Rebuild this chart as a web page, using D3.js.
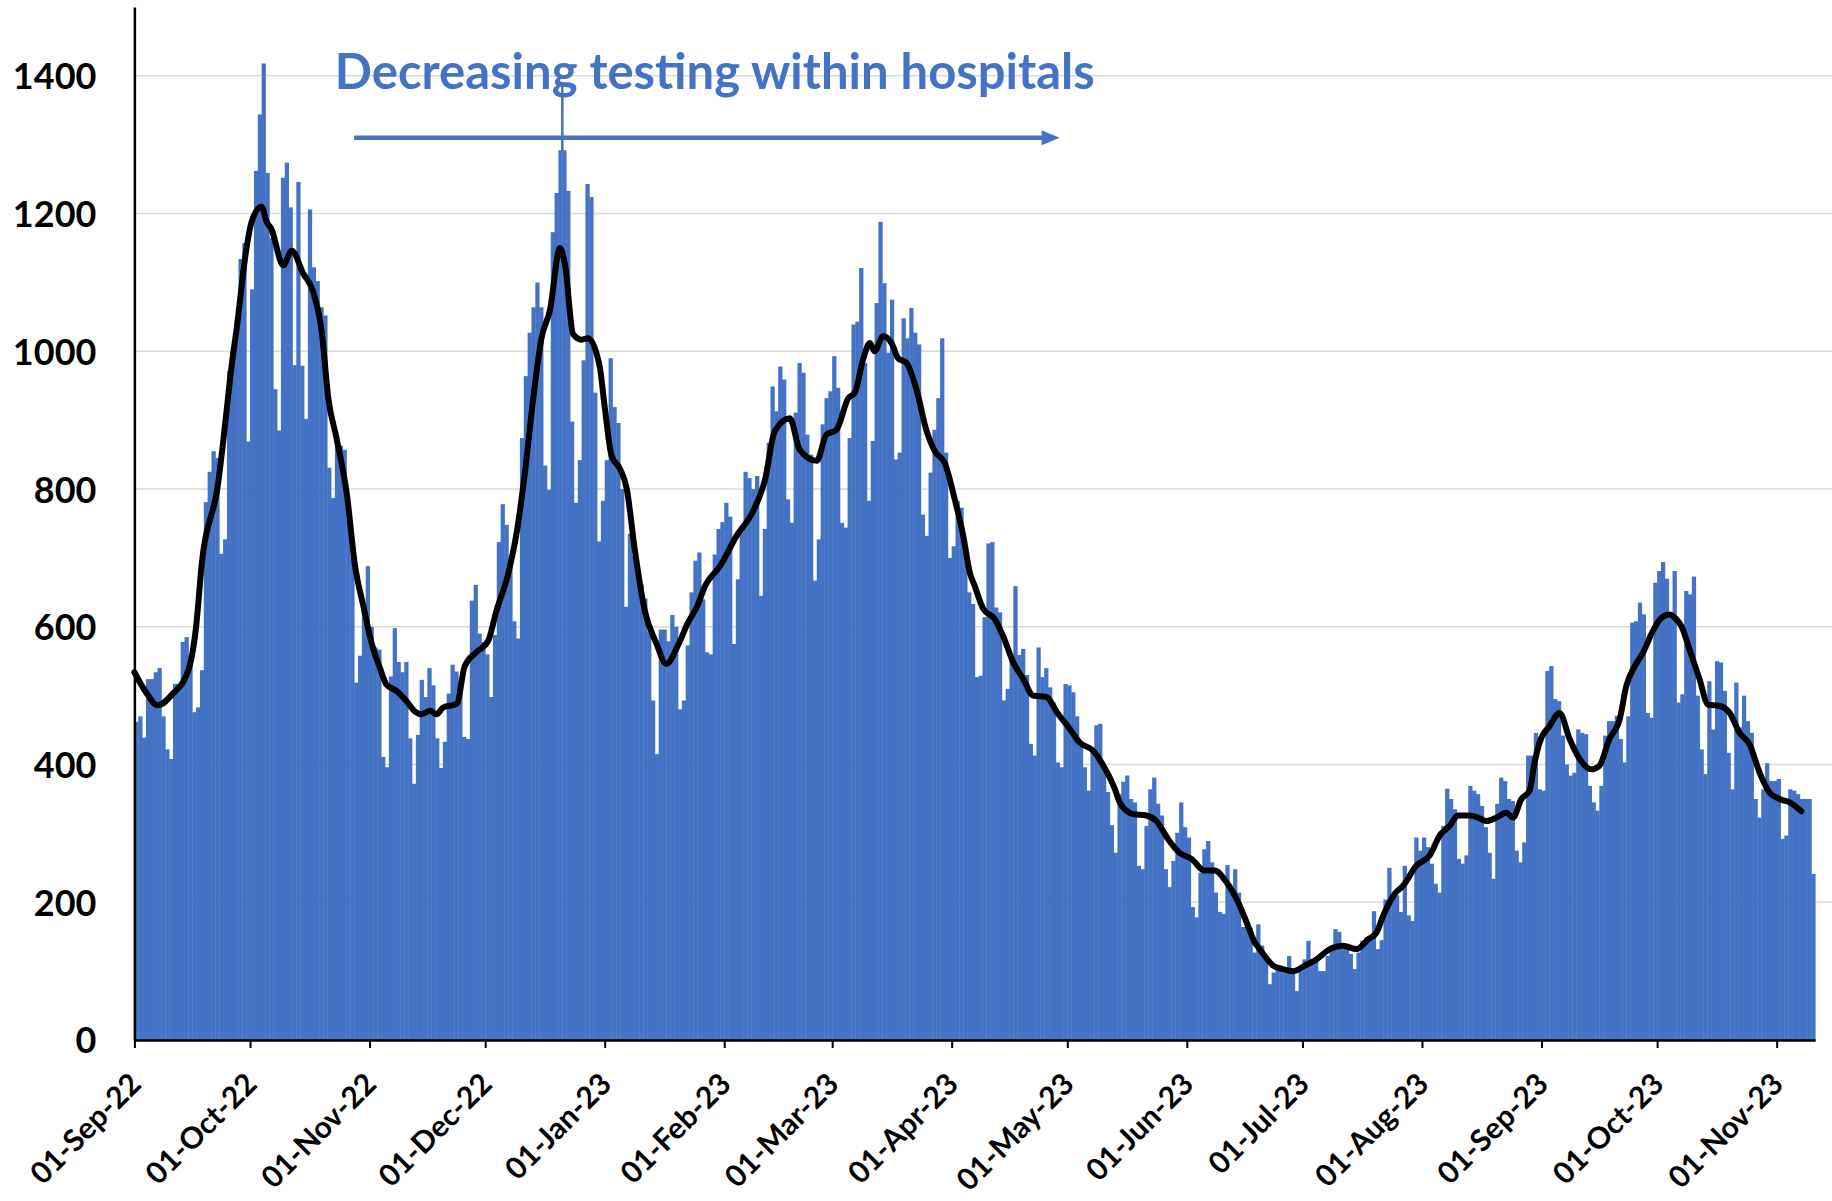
<!DOCTYPE html>
<html>
<head>
<meta charset="utf-8">
<script src="https://cdn.jsdelivr.net/npm/d3@7"></script>
<style>
  body { margin: 0; background: #fff; }
  svg text { font-family: Lato, "Liberation Sans", sans-serif; font-weight: 700; }
</style>
</head>
<body>
<div id="wrapper"></div>
<script>
// daily tests, first bar = 01-Sep-22, one value per day
const startDay = "2022-09-01";
const dailyTests = [
  462, 470, 439, 524, 524, 534, 540,
  470, 422, 408, 517, 517, 578, 585,
  560, 476, 483, 537, 781, 825, 855,
  845, 706, 727, 971, 998, 1045, 1134,
  1157, 869, 1090, 1262, 1344, 1418, 1259,
  1164, 945, 885, 1252, 1274, 1209, 980,
  1246, 979, 902, 1206, 1122, 1102, 1064,
  1052, 831, 787, 872, 863, 857, 770,
  700, 519, 558, 631, 688, 600, 570,
  567, 411, 396, 528, 598, 549, 534,
  549, 438, 372, 443, 523, 498, 540,
  515, 438, 395, 433, 503, 545, 535,
  520, 440, 437, 638, 661, 590, 578,
  560, 498, 588, 723, 778, 748, 698,
  608, 583, 874, 964, 1027, 1064, 1100,
  1064, 834, 799, 1173, 1230, 1292, 1292,
  1233, 898, 780, 842, 987, 1243, 1224,
  940, 724, 783, 842, 990, 919, 896,
  800, 629, 735, 703, 691, 662, 641,
  593, 493, 415, 596, 596, 579, 617,
  600, 480, 493, 573, 650, 696, 708,
  640, 563, 560, 705, 742, 752, 780,
  760, 575, 669, 746, 825, 816, 800,
  819, 645, 742, 867, 949, 913, 978,
  959, 785, 751, 911, 983, 969, 879,
  850, 667, 727, 894, 932, 942, 993,
  947, 751, 744, 874, 1039, 1043, 1121,
  983, 783, 870, 1070, 1188, 1099, 998,
  1075, 843, 853, 1048, 1019, 1063, 1027,
  1010, 763, 732, 824, 886, 932, 1019,
  853, 700, 717, 783, 773, 710, 650,
  633, 527, 529, 614, 721, 723, 628,
  621, 493, 510, 558, 659, 559, 568,
  530, 430, 413, 570, 527, 540, 512,
  490, 403, 396, 517, 515, 505, 470,
  428, 396, 362, 420, 457, 459, 396,
  360, 312, 272, 357, 375, 384, 350,
  345, 253, 248, 311, 364, 381, 343,
  326, 248, 222, 260, 301, 345, 309,
  294, 193, 178, 243, 277, 289, 258,
  214, 186, 183, 254, 224, 248, 214,
  164, 170, 163, 127, 168, 137, 117,
  81, 98, 103, 103, 98, 122, 103,
  71, 100, 117, 144, 115, 120, 100,
  100, 122, 135, 161, 157, 134, 137,
  125, 103, 127, 144, 149, 149, 187,
  132, 145, 204, 250, 209, 210, 186,
  253, 181, 173, 294, 275, 294, 280,
  256, 227, 214, 311, 365, 350, 335,
  263, 256, 268, 369, 362, 357, 340,
  309, 272, 234, 343, 381, 376, 350,
  347, 275, 258, 287, 413, 413, 446,
  364, 362, 536, 543, 495, 492, 442,
  400, 384, 388, 451, 446, 444, 369,
  345, 333, 369, 442, 463, 463, 471,
  437, 403, 470, 606, 608, 635, 618,
  475, 468, 664, 681, 694, 670, 618,
  681, 490, 502, 652, 647, 673, 500,
  422, 386, 521, 451, 550, 548, 507,
  417, 364, 519, 454, 500, 463, 446,
  350, 323, 364, 402, 376, 376, 379,
  292, 297, 364, 362, 357, 350, 350,
  350, 241
];

// 7-day average line, read as (days after 01-Sep-22, value)
const avgDays = [
  0, 3, 6, 10, 14, 16, 17.5, 21.5, 25.7, 26.5, 29, 30.4, 33, 34.3, 35.5, 38.6, 40.8,
  43.8, 46.4, 48.6, 50.3, 52.5, 55.1, 57.2, 59.4, 61.5, 63.7, 65.4, 68, 70.6, 72.8,
  74.5, 76.7, 78.4, 80.1, 83.6, 85.7, 88.7, 91.8, 93.9, 97, 99.2, 101.3, 103.5,
  105.6, 107.8, 110.4, 111.7, 113.8, 116, 117.7, 120.7, 122, 123.8, 125.9, 127.7,
  129.8, 132.4, 135.4, 138, 141, 143.5, 146, 148, 151.9, 156.2, 160.5, 163.6, 166.1,
  170, 172.6, 177, 179.5, 182.1, 185.2, 186.9, 189, 190.8, 192, 194.2, 196.4, 198.1,
  200.3, 202.9, 205.5, 207.6, 210.2, 212.8, 215, 216.7, 218, 220.2, 223.2, 225.3,
  228, 230.6, 233.1, 236.6, 239.3, 242.6, 245.2, 248.7, 251.3, 254.3, 255.6, 259.1,
  262.5, 265.1, 268.1, 271.1, 274.2, 277.6, 280.2, 283.3, 286.3, 288.5, 290.6, 291.9,
  295.4, 297.9, 300.6, 303.6, 306.6, 310.1, 313.5, 317, 320, 322.2, 323.9, 325.6,
  326.9, 329.1, 332.5, 336, 338.6, 341.2, 343.3, 346.3, 348.5, 350.7, 353.3, 355.9,
  357.6, 359.8, 361.9, 363.2, 364.5, 367.1, 369.7, 372.3, 374.9, 377.9, 380, 382.6,
  385.3, 387, 389.2, 391.3, 393.9, 396.1, 398.3, 399.6, 401.3, 403.4, 406, 408.2,
  411.2, 413.8, 416.4, 419, 421.6, 424.2, 426.8, 429.4, 432.4
];
const avgValues = [
  534, 505, 486, 503, 537, 600, 693, 800, 1000, 1032, 1147, 1188, 1210, 1188, 1178, 1125, 1146,
  1113, 1086, 1028, 932, 872, 793, 690, 630, 577, 540, 516, 507, 492, 477,
  473, 478, 473, 483, 488, 543, 563, 580, 623, 678, 738, 824, 934,
  1019, 1060, 1150, 1126, 1025, 1017, 1019, 978, 919, 848, 830, 801,
  712, 623, 576, 546, 573, 605, 630, 659, 688, 732, 768, 814, 884,
  903, 857, 841, 879, 886, 932, 940, 988, 1012, 1000, 1022, 1012, 990,
  983, 944, 884, 855, 838, 785, 732, 679, 659, 626, 611, 587,
  548, 524, 500, 498, 476, 452, 432, 420, 399, 365, 345, 328,
  326, 318, 292, 272, 263, 246, 246, 229, 200, 171, 142, 132,
  108, 103, 100, 108, 117, 132, 137, 132, 146, 156, 180, 200,
  212, 224, 253, 268, 297, 311, 326, 326, 323, 318, 323, 330,
  323, 350, 362, 403, 432, 456, 475, 437, 408, 393, 398, 437,
  466, 514, 543, 562, 594, 613, 618, 613, 601, 567, 524, 487,
  485, 475, 446, 429, 388, 359, 350, 345, 332
];

const yTicks = [0, 200, 400, 600, 800, 1000, 1200, 1400];
const yMax = 1500;
const monthTicks = [
  "2022-09-01", "2022-10-01", "2022-11-01", "2022-12-01", "2023-01-01",
  "2023-02-01", "2023-03-01", "2023-04-01", "2023-05-01", "2023-06-01",
  "2023-07-01", "2023-08-01", "2023-09-01", "2023-10-01", "2023-11-01"
];
const titleText = "Decreasing testing within hospitals";
const arrowStart = "2022-10-28", arrowEnd = "2023-04-29", arrowLevel = 1310;

const createChart = () => {
  const parseDay = d3.utcParse("%Y-%m-%d");
  const start = parseDay(startDay);
  const dayToDate = (d) => new Date(start.getTime() + d * 864e5);

  const data = dailyTests.map((v, i) => ({ date: d3.utcDay.offset(start, i), value: v }));
  const avgData = avgDays.map((d, i) => ({ date: dayToDate(d), value: avgValues[i] }));

  const dimensions = {
    width: 1832,
    height: 1201,
    margin: { top: 7, right: 16, bottom: 161, left: 134.4 }
  };
  dimensions.boundedWidth = dimensions.width - dimensions.margin.left - dimensions.margin.right;
  dimensions.boundedHeight = dimensions.height - dimensions.margin.top - dimensions.margin.bottom;

  const wrapper = d3.select("#wrapper")
    .append("svg")
    .attr("width", dimensions.width)
    .attr("height", dimensions.height)
    .style("display", "block");

  const bounds = wrapper.append("g")
    .attr("transform", `translate(${dimensions.margin.left},${dimensions.margin.top})`);

  // scales
  const xScale = d3.scaleUtc()
    .domain([start, d3.utcDay.offset(start, data.length)])
    .range([0, dimensions.boundedWidth - 0.8]);

  const yScale = d3.scaleLinear()
    .domain([0, yMax])
    .range([dimensions.boundedHeight, 0]);

  // gridlines
  bounds.append("g")
    .selectAll("line")
    .data(yTicks.filter((t) => t > 0))
    .join("line")
      .attr("x1", 0)
      .attr("x2", dimensions.width - dimensions.margin.left)
      .attr("y1", (d) => yScale(d))
      .attr("y2", (d) => yScale(d))
      .attr("stroke", "#d9d9d9")
      .attr("stroke-width", 1.5);

  // bars
  bounds.append("g")
    .selectAll("rect")
    .data(data)
    .join("rect")
      .attr("x", (d) => xScale(d.date))
      .attr("width", (d) => xScale(d3.utcDay.offset(d.date, 1)) - xScale(d.date) + 0.4)
      .attr("y", (d) => yScale(d.value))
      .attr("height", (d) => yScale(0) - yScale(d.value))
      .attr("fill", "#4472c4");

  // 7-day average
  const lineGenerator = d3.line()
    .x((d) => xScale(d.date))
    .y((d) => yScale(d.value))
    .curve(d3.curveMonotoneX);

  bounds.append("path")
    .attr("d", lineGenerator(avgData))
    .attr("fill", "none")
    .attr("stroke", "#000")
    .attr("stroke-width", 6)
    .attr("stroke-linejoin", "round")
    .attr("stroke-linecap", "round");

  // axes
  const yAxis = bounds.append("g")
    .call(d3.axisLeft(yScale)
      .tickValues(yTicks)
      .tickFormat(d3.format("d"))
      .tickSize(0)
      .tickPadding(38));
  yAxis.select(".domain").attr("stroke", "#000").attr("stroke-width", 2.5);
  yAxis.selectAll("text")
    .attr("font-size", 36)
    .attr("fill", "#000")
    .attr("dy", "0.36em");

  const xAxis = bounds.append("g")
    .attr("transform", `translate(0,${dimensions.boundedHeight})`)
    .call(d3.axisBottom(xScale)
      .tickValues(monthTicks.map(parseDay))
      .tickFormat(d3.utcFormat("%d-%b-%y"))
      .tickSizeInner(8)
      .tickSizeOuter(0));
  xAxis.select(".domain").attr("stroke", "#000").attr("stroke-width", 2.5);
  xAxis.selectAll(".tick line").attr("stroke", "#000").attr("stroke-width", 2);
  xAxis.selectAll("text")
    .attr("font-size", 30)
    .attr("fill", "#000")
    .attr("text-anchor", "end")
    .attr("y", 0)
    .attr("dy", 0)
    .attr("transform", "translate(8,46) rotate(-45)");

  // annotation: title + arrow
  const blue = "#4472c4";
  const title = bounds.append("text")
    .attr("x", xScale(parseDay("2022-10-23")))
    .attr("y", yScale(1381))
    .attr("fill", blue)
    .attr("font-size", 48)
    .text(titleText);
  const targetWidth = 760;
  const w = title.node().getComputedTextLength();
  title.attr("font-size", 48 * targetWidth / w);

  const ax0 = xScale(parseDay(arrowStart));
  const ax1 = xScale(parseDay(arrowEnd));
  const ay = yScale(arrowLevel);
  bounds.append("line")
    .attr("x1", ax0).attr("x2", ax1 - 14)
    .attr("y1", ay).attr("y2", ay)
    .attr("stroke", blue)
    .attr("stroke-width", 4.5);
  bounds.append("path")
    .attr("d", `M${ax1},${ay} L${ax1 - 18},${ay - 7.5} L${ax1 - 18},${ay + 7.5} Z`)
    .attr("fill", blue);

  // thin marker line between title and the December peak
  const markX = xScale(d3.utcDay.offset(start, 111));
  bounds.append("line")
    .attr("x1", markX).attr("x2", markX)
    .attr("y1", yScale(1385)).attr("y2", yScale(1290))
    .attr("stroke", blue)
    .attr("stroke-width", 2.5);
};

createChart();
</script>
</body>
</html>
